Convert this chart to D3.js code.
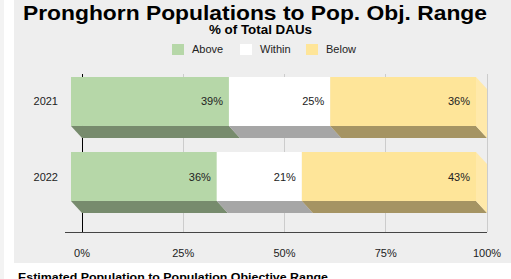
<!DOCTYPE html>
<html>
<head>
<meta charset="utf-8">
<script src="https://cdn.jsdelivr.net/npm/d3@7/dist/d3.min.js"></script>
<style>
  body { margin: 0; background: #fff; }
  svg { display: block; font-family: "Liberation Sans", Arial, sans-serif; }
</style>
</head>
<body>
<div id="chartDiv"></div>
<script>
// data
const years = ["2021", "2022"];
const groups = ["Above", "Within", "Below"];
const above = [39, 36];
const within = [25, 21];
const below = [36, 43];
const ticks = [0, 25, 50, 75, 100];

const colors = { Above: "#b6d7a8", Within: "#ffffff", Below: "#fee599" };
const darker = { Above: "#778b6d", Within: "#a6a6a6", Below: "#a59463" };

const W = 511, H = 279;
const depthX = 11, depthY = 12;

const svg = d3.select("#chartDiv").append("svg")
  .attr("width", W).attr("height", H);

// background
svg.append("rect").attr("x", 0).attr("y", 0).attr("width", 4).attr("height", H).attr("fill", "#f3f3f3");
svg.append("rect").attr("x", 14).attr("y", 0).attr("width", W - 14).attr("height", 263).attr("fill", "#eeeeee");

// titles
svg.append("text").attr("x", 23).attr("y", 20)
  .attr("textLength", 464).attr("lengthAdjust", "spacingAndGlyphs")
  .style("font-size", "21px").style("font-weight", "bold").attr("fill", "#000")
  .text("Pronghorn Populations to Pop. Obj. Range");
svg.append("text").attr("x", 209).attr("y", 34)
  .attr("textLength", 103).attr("lengthAdjust", "spacingAndGlyphs")
  .style("font-size", "12px").style("font-weight", "bold").attr("fill", "#000")
  .text("% of Total DAUs");

// legend
const legX = [172, 240, 306];
const leg = svg.append("g");
groups.forEach((g, i) => {
  leg.append("rect").attr("x", legX[i]).attr("y", 44).attr("width", 12).attr("height", 11)
    .attr("fill", colors[g]);
  leg.append("text").attr("x", legX[i] + 20).attr("y", 53)
    .style("font-size", "11px").attr("fill", "#222").text(g);
});

// scales (front plane)
const x = d3.scaleLinear().domain([0, 100]).range([71, 476]);
const y = d3.scaleBand().domain(years).range([64, 214]).paddingInner(0.347).paddingOuter(0.1733);

// gridlines on the back plane
svg.append("g").selectAll("line").data(ticks).join("line")
  .attr("x1", d => x(d) + depthX).attr("x2", d => x(d) + depthX)
  .attr("y1", 74).attr("y2", 232)
  .attr("stroke", d => d === 0 ? "#000" : "#cccccc").attr("stroke-width", 1)
  .attr("shape-rendering", "crispEdges");

// x axis baseline and labels
svg.append("line").attr("x1", 65).attr("x2", x(100) + depthX).attr("y1", 232.5).attr("y2", 232.5)
  .attr("stroke", "#444").attr("stroke-width", 1);
svg.append("g").selectAll("text").data(ticks).join("text")
  .attr("x", d => x(d) + depthX).attr("y", 257).attr("text-anchor", "middle")
  .style("font-size", "11px").attr("fill", "#222")
  .text(d => d + "%");

// stacked rows
const rows = years.map((yr, i) => ({ year: yr, Above: above[i], Within: within[i], Below: below[i] }));
const stacked = d3.stack().keys(groups)(rows);

const bars = svg.append("g");
rows.forEach((r, i) => {
  const y0 = y(r.year), bh = y.bandwidth();
  const segs = stacked.map(s => ({ key: s.key, x0: s[i][0], x1: s[i][1] }));
  // bottom faces
  segs.forEach(s => {
    const a = x(s.x0), b = x(s.x1), yb = y0 + bh;
    bars.append("path")
      .attr("d", `M${a},${yb}L${b},${yb}L${b + depthX},${yb + depthY}L${a + depthX},${yb + depthY}Z`)
      .attr("fill", darker[s.key]);
  });
  // right side face
  const last = segs[segs.length - 1];
  const xr = x(last.x1);
  bars.append("path")
    .attr("d", `M${xr},${y0}L${xr + depthX},${y0 + depthY}L${xr + depthX},${y0 + bh + depthY}L${xr},${y0 + bh}Z`)
    .attr("fill", "#ffe9aa");
  // front faces
  segs.forEach(s => {
    bars.append("rect").attr("x", x(s.x0)).attr("y", y0)
      .attr("width", x(s.x1) - x(s.x0)).attr("height", bh)
      .attr("fill", colors[s.key]);
    bars.append("text").attr("x", x(s.x1) - 6).attr("y", y0 + bh / 2 + 4)
      .attr("text-anchor", "end").style("font-size", "11px").attr("fill", "#222")
      .text((s.x1 - s.x0) + "%");
  });
  // category label
  svg.append("text").attr("x", 58).attr("y", y0 + bh / 2 + 4).attr("text-anchor", "end")
    .style("font-size", "11px").attr("fill", "#222").text(r.year);
});

// caption below chart (cut off by the window, as in the reference)
svg.append("text").attr("x", 18).attr("y", 281)
  .attr("textLength", 310).attr("lengthAdjust", "spacingAndGlyphs")
  .style("font-size", "11px").style("font-weight", "bold").attr("fill", "#000")
  .text("Estimated Population to Population Objective Range");
</script>
</body>
</html>
